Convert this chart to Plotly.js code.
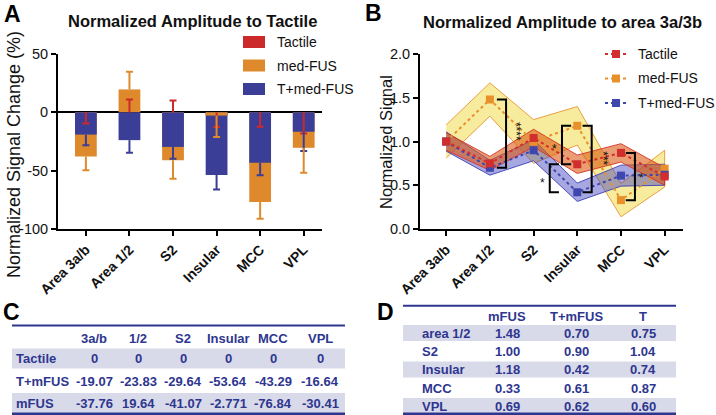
<!DOCTYPE html>
<html>
<head>
<meta charset="utf-8">
<script src="https://cdn.plot.ly/plotly-3.0.1.min.js"></script>
<style>
html,body{margin:0;padding:0;background:#fff;}
#chart{width:716px;height:415px;}
</style>
</head>
<body>
<div id="chart"></div>
<script>
// ---------------- DATA ----------------
const categories = ['Area 3a/b', 'Area 1/2', 'S2', 'Insular', 'MCC', 'VPL'];

// Panel A : normalized amplitude to tactile (%)
const tactileChange = [0, 0, 0, 0, 0, 0];
const tplusChange = [-19.07, -23.83, -29.64, -53.64, -43.29, -16.64];
const mfusChange = [-37.76, 19.64, -41.07, -2.771, -76.84, -30.41];
const tactileErr = [9.6, 11.0, 10.2, 12.6, 12.3, 18.2];
const tactileErrDir = [-1, 1, 1, -1, -1, -1];
const tplusErr = [9.2, 10.8, 10.1, 12.4, 10.7, 16.6];
const mfusErr = [11.9, 15.2, 15.8, 18.3, 14.3, 21.3];

// Panel B : normalized amplitude to area 3a/3b
const tactileNorm = [1.00, 0.75, 1.04, 0.74, 0.87, 0.60];
const mfusNorm = [1.00, 1.48, 1.00, 1.18, 0.33, 0.69];
const tplusNorm = [1.00, 0.70, 0.90, 0.42, 0.61, 0.62];
const tactileSem = [0.10, 0.08, 0.10, 0.105, 0.105, 0.10];
const mfusSem = [0.19, 0.19, 0.25, 0.22, 0.19, 0.21];
const tplusSem = [0.11, 0.085, 0.12, 0.105, 0.12, 0.12];

// Tables
const tableCCols = ['3a/b', '1/2', 'S2', 'Insular', 'MCC', 'VPL'];
const tableCRows = ['Tactile', 'T+mFUS', 'mFUS'];
const tableDCols = ['mFUS', 'T+mFUS', 'T'];
const tableDRows = ['area 1/2', 'S2', 'Insular', 'MCC', 'VPL'];

// Legend labels
const seriesNames = ['Tactile', 'med-FUS', 'T+med-FUS'];

// ---------------- STYLE ----------------
const FONT = 'Arial, "Liberation Sans", sans-serif';
const W = 716, H = 415;
const px = x => x / W;
const py = y => 1 - y / H;
const cRed = '#cc2a2a', cOrange = '#de8a2c', cBlue = '#3a3e96';
const bRed = '#d22e2e', bOrange = '#e8902a', bBlue = '#3f46ae';
const navy = '#2e368f', shade = '#d8daea';

const idx = categories.map((c, i) => i);
const traces = [];

// ---------- Panel A bars ----------
traces.push({type: 'bar', x: idx, y: mfusChange, width: 0.5, marker: {color: cOrange},
  xaxis: 'x', yaxis: 'y', hoverinfo: 'skip', showlegend: false});
traces.push({type: 'bar', x: idx, y: tplusChange, width: 0.5, marker: {color: cBlue},
  xaxis: 'x', yaxis: 'y', hoverinfo: 'skip', showlegend: false});
// smaller-magnitude med-FUS bars drawn on top (as in the original overlap)
traces.push({type: 'bar', x: idx,
  y: mfusChange.map((v, i) => (Math.sign(v) === Math.sign(tplusChange[i]) && Math.abs(v) < Math.abs(tplusChange[i])) ? v : null),
  width: 0.5, marker: {color: cOrange}, xaxis: 'x', yaxis: 'y', hoverinfo: 'skip', showlegend: false});

// error bars (one-directional, cap only at far end)
function addErr(vals, errs, dirs, color) {
  traces.push({type: 'scatter', mode: 'markers', x: idx, y: vals, marker: {size: 1, opacity: 0},
    xaxis: 'x', yaxis: 'y', hoverinfo: 'skip', showlegend: false,
    error_y: {type: 'data', symmetric: false,
      array: errs.map((e, i) => dirs[i] > 0 ? e : 0),
      arrayminus: errs.map((e, i) => dirs[i] < 0 ? e : 0),
      color: color, thickness: 2, width: 0}});
  traces.push({type: 'scatter', mode: 'markers', x: idx, y: vals.map((v, i) => v + dirs[i] * errs[i]),
    marker: {size: 1, opacity: 0}, xaxis: 'x', yaxis: 'y', hoverinfo: 'skip', showlegend: false,
    error_y: {type: 'data', symmetric: false, array: errs.map(() => 0), arrayminus: errs.map(() => 0),
      color: color, thickness: 2, width: 3.5}});
}
addErr(tactileChange, tactileErr, tactileErrDir, cRed);
addErr(tplusChange, tplusErr, tplusChange.map(v => Math.sign(v) || -1), cBlue);
addErr(mfusChange, mfusErr, mfusChange.map(v => Math.sign(v) || -1), cOrange);

// ---------- Panel B bands ----------
function band(mean, sem, fill, edge) {
  const up = mean.map((m, i) => m + sem[i]);
  const lo = mean.map((m, i) => m - sem[i]);
  traces.push({type: 'scatter', mode: 'lines', x: idx.concat(idx.slice().reverse()),
    y: up.concat(lo.slice().reverse()), fill: 'toself', fillcolor: fill,
    line: {color: edge, width: 1}, xaxis: 'x2', yaxis: 'y2', hoverinfo: 'skip', showlegend: false});
}
band(mfusNorm, mfusSem, 'rgba(240,215,60,0.5)', 'rgba(232,150,50,0.9)');
band(tplusNorm, tplusSem, 'rgba(60,60,190,0.45)', 'rgba(60,65,180,0.9)');
band(tactileNorm, tactileSem, 'rgba(220,90,20,0.6)', 'rgba(215,50,40,0.9)');

function series(vals, color) {
  traces.push({type: 'scatter', mode: 'lines+markers', x: idx, y: vals,
    line: {color: color, width: 2, dash: 'dot'}, marker: {symbol: 'square', size: 8, color: color},
    xaxis: 'x2', yaxis: 'y2', hoverinfo: 'skip', showlegend: false});
}
series(mfusNorm, bOrange);
series(tplusNorm, bBlue);
series(tactileNorm, bRed);

// ---------------- LAYOUT ----------------
const shapes = [];
const annotations = [];
function txt(x, y, text, opt) {
  annotations.push(Object.assign({xref: 'paper', yref: 'paper', x: px(x), y: py(y), text: text,
    showarrow: false, xanchor: 'center', yanchor: 'middle',
    font: {family: FONT, size: 14, color: '#111'}}, opt || {}));
}

// panel letters and titles
txt(12, 14, '<b>A</b>', {font: {family: FONT, size: 23, color: '#000'}});
txt(373, 13, '<b>B</b>', {font: {family: FONT, size: 23, color: '#000'}});
txt(11, 312, '<b>C</b>', {font: {family: FONT, size: 23, color: '#000'}});
txt(385, 312, '<b>D</b>', {font: {family: FONT, size: 23, color: '#000'}});
txt(192, 21, '<b>Normalized Amplitude to Tactile</b>', {font: {family: FONT, size: 16.5, color: '#111'}});
txt(562, 22, '<b>Normalized Amplitude to area 3a/3b</b>', {font: {family: FONT, size: 16.5, color: '#111'}});
txt(14, 155, 'Normalized Signal Change (%)', {textangle: -90, font: {family: FONT, size: 18, color: '#111'}});
txt(386, 142, 'Normalized Signal', {textangle: -90, font: {family: FONT, size: 16.5, color: '#111'}});

// manual legend A
const legA = [cRed, cOrange, cBlue];
const legAy = [42, 65.5, 89];
legA.forEach((c, i) => {
  shapes.push({type: 'rect', xref: 'paper', yref: 'paper', x0: px(243), x1: px(265),
    y0: py(legAy[i] - 6), y1: py(legAy[i] + 6), fillcolor: c, line: {width: 0}});
  txt(275, legAy[i], seriesNames[i], {xanchor: 'left'});
});
// manual legend B
const legB = [bRed, bOrange, bBlue];
const legBy = [54, 78.5, 103];
legB.forEach((c, i) => {
  shapes.push({type: 'line', xref: 'paper', yref: 'paper', x0: px(605), x1: px(627),
    y0: py(legBy[i]), y1: py(legBy[i]), line: {color: c, width: 2, dash: 'dot'}});
  shapes.push({type: 'rect', xref: 'paper', yref: 'paper', x0: px(612), x1: px(620),
    y0: py(legBy[i] - 4), y1: py(legBy[i] + 4), fillcolor: c, line: {width: 0}});
  txt(636, legBy[i], seriesNames[i], {xanchor: 'left'});
});

// significance brackets on panel B (data coordinates)
const brackets = [
  {x: 1.37, dir: -1, a: mfusNorm[1], b: tplusNorm[1]},
  {x: 2.37, dir: 1, a: tactileNorm[3], b: tplusNorm[3]},
  {x: 2.65, dir: 1, a: mfusNorm[3], b: tactileNorm[3]},
  {x: 3.33, dir: -1, a: mfusNorm[3], b: tplusNorm[3]},
  {x: 4.32, dir: -1, a: tactileNorm[4], b: mfusNorm[4]}
];
brackets.forEach(br => {
  const xt = br.x + br.dir * 0.21;
  shapes.push({type: 'path', xref: 'x2', yref: 'y2',
    path: `M${xt},${br.a} L${br.x},${br.a} L${br.x},${br.b} L${xt},${br.b}`,
    line: {color: '#000', width: 2}});
});
const stars = [
  {x: 1.55, y: 1.11, t: '****', v: true},
  {x: 2.21, y: 0.56, t: '*'},
  {x: 2.47, y: 0.95, t: '*'},
  {x: 3.54, y: 0.81, t: '***', v: true},
  {x: 4.47, y: 0.62, t: '*'}
];
stars.forEach(s => {
  annotations.push({xref: 'x2', yref: 'y2', x: s.x, y: s.y, text: s.t, showarrow: false,
    textangle: s.v ? 90 : 0, yshift: s.v ? 0 : -3, xshift: s.v ? 2 : 0,
    font: {family: FONT, size: 12, color: '#111'}});
});

// ---------- Table C ----------
const tcL = 12, tcR = 345;
shapes.push({type: 'line', xref: 'paper', yref: 'paper', x0: px(tcL), x1: px(tcR), y0: py(325.5), y1: py(325.5), line: {color: navy, width: 2}});
const tcColX = [94, 138, 183, 228, 273, 320];
const tcHeadY = 338;
const tcRowY = [358.5, 381, 403];
const tcVals = [tactileChange, tplusChange, mfusChange];
tcRowY.forEach((y, r) => {
  if (r % 2 === 0) {
    shapes.push({type: 'rect', xref: 'paper', yref: 'paper', layer: 'below', x0: px(tcL), x1: px(tcR),
      y0: py(y - 10), y1: py(Math.min(y + 10, 413)), fillcolor: shade, line: {width: 0}});
  }
});
shapes.push({type: 'line', xref: 'paper', yref: 'paper', x0: px(tcL), x1: px(tcR), y0: py(413.8), y1: py(413.8), line: {color: navy, width: 2.5}});
const tFont = {family: FONT, size: 13, color: navy};
tableCCols.forEach((c, j) => txt(tcColX[j], tcHeadY, '<b>' + c + '</b>', {font: tFont}));
tableCRows.forEach((rName, r) => {
  txt(14, tcRowY[r], '<b>' + rName + '</b>', {xanchor: 'left', font: tFont});
  tcVals[r].forEach((v, j) => txt(tcColX[j], tcRowY[r], '<b>' + String(v) + '</b>', {font: tFont}));
});

// ---------- Table D ----------
const tdL = 403, tdR = 676;
shapes.push({type: 'line', xref: 'paper', yref: 'paper', x0: px(tdL), x1: px(tdR), y0: py(305.8), y1: py(305.8), line: {color: navy, width: 2}});
const tdColX = [507, 576, 643];
const tdHeadY = 316;
const tdRowY = [333, 351.5, 369.5, 388, 406];
const tdVals = [mfusNorm, tplusNorm, tactileNorm];
tdRowY.forEach((y, r) => {
  if (r % 2 === 0) {
    shapes.push({type: 'rect', xref: 'paper', yref: 'paper', layer: 'below', x0: px(tdL), x1: px(tdR),
      y0: py(y - 8), y1: py(Math.min(y + 8, 413)), fillcolor: shade, line: {width: 0}});
  }
});
shapes.push({type: 'line', xref: 'paper', yref: 'paper', x0: px(tdL), x1: px(tdR), y0: py(413.8), y1: py(413.8), line: {color: navy, width: 2.5}});
tableDCols.forEach((c, j) => txt(tdColX[j], tdHeadY, '<b>' + c + '</b>', {font: tFont}));
tableDRows.forEach((rName, r) => {
  txt(420, tdRowY[r], '<b>' + rName + '</b>', {xanchor: 'left', font: tFont});
  tdVals.forEach((arr, j) => txt(tdColX[j], tdRowY[r], '<b>' + arr[r + 1].toFixed(2) + '</b>', {font: tFont}));
});

// ---------- axes ----------
const yTickA = [-100, -50, 0, 50];
const yTickB = [0, 0.5, 1.0, 1.5, 2.0];
const commonAxis = {showgrid: false, showline: true, linecolor: '#000', linewidth: 2,
  ticks: 'outside', ticklen: 5, tickwidth: 2, tickcolor: '#000', zeroline: false};
const xAxisBase = Object.assign({}, commonAxis, {tickmode: 'array', tickvals: idx, ticktext: categories,
  tickangle: -45, tickfont: {family: FONT, size: 14, color: '#111', weight: 'bold'}, range: [-0.64, 5.42]});

const layout = {
  width: W, height: H, margin: {l: 0, r: 0, t: 0, b: 0},
  paper_bgcolor: '#fff', plot_bgcolor: 'rgba(0,0,0,0)',
  barmode: 'overlay', showlegend: false,
  font: {family: FONT, color: '#111'},
  xaxis: Object.assign({}, xAxisBase, {domain: [px(58), px(322)], anchor: 'y'}),
  yaxis: Object.assign({}, commonAxis, {domain: [py(229), py(54)], anchor: 'x', range: [-100, 50],
    tickmode: 'array', tickvals: yTickA, ticktext: yTickA.map(String),
    zeroline: true, zerolinecolor: '#000', zerolinewidth: 2,
    tickfont: {family: FONT, size: 14.5, color: '#111'}}),
  xaxis2: Object.assign({}, xAxisBase, {domain: [px(420), px(683)], anchor: 'y2', range: [-0.6, 5.42]}),
  yaxis2: Object.assign({}, commonAxis, {domain: [py(229), py(54)], anchor: 'x2', range: [0, 2],
    tickmode: 'array', tickvals: yTickB, ticktext: yTickB.map(v => v.toFixed(1)),
    tickfont: {family: FONT, size: 14.5, color: '#111'}}),
  shapes: shapes,
  annotations: annotations
};

Plotly.newPlot('chart', traces, layout, {displayModeBar: false, staticPlot: true});
</script>
</body>
</html>
